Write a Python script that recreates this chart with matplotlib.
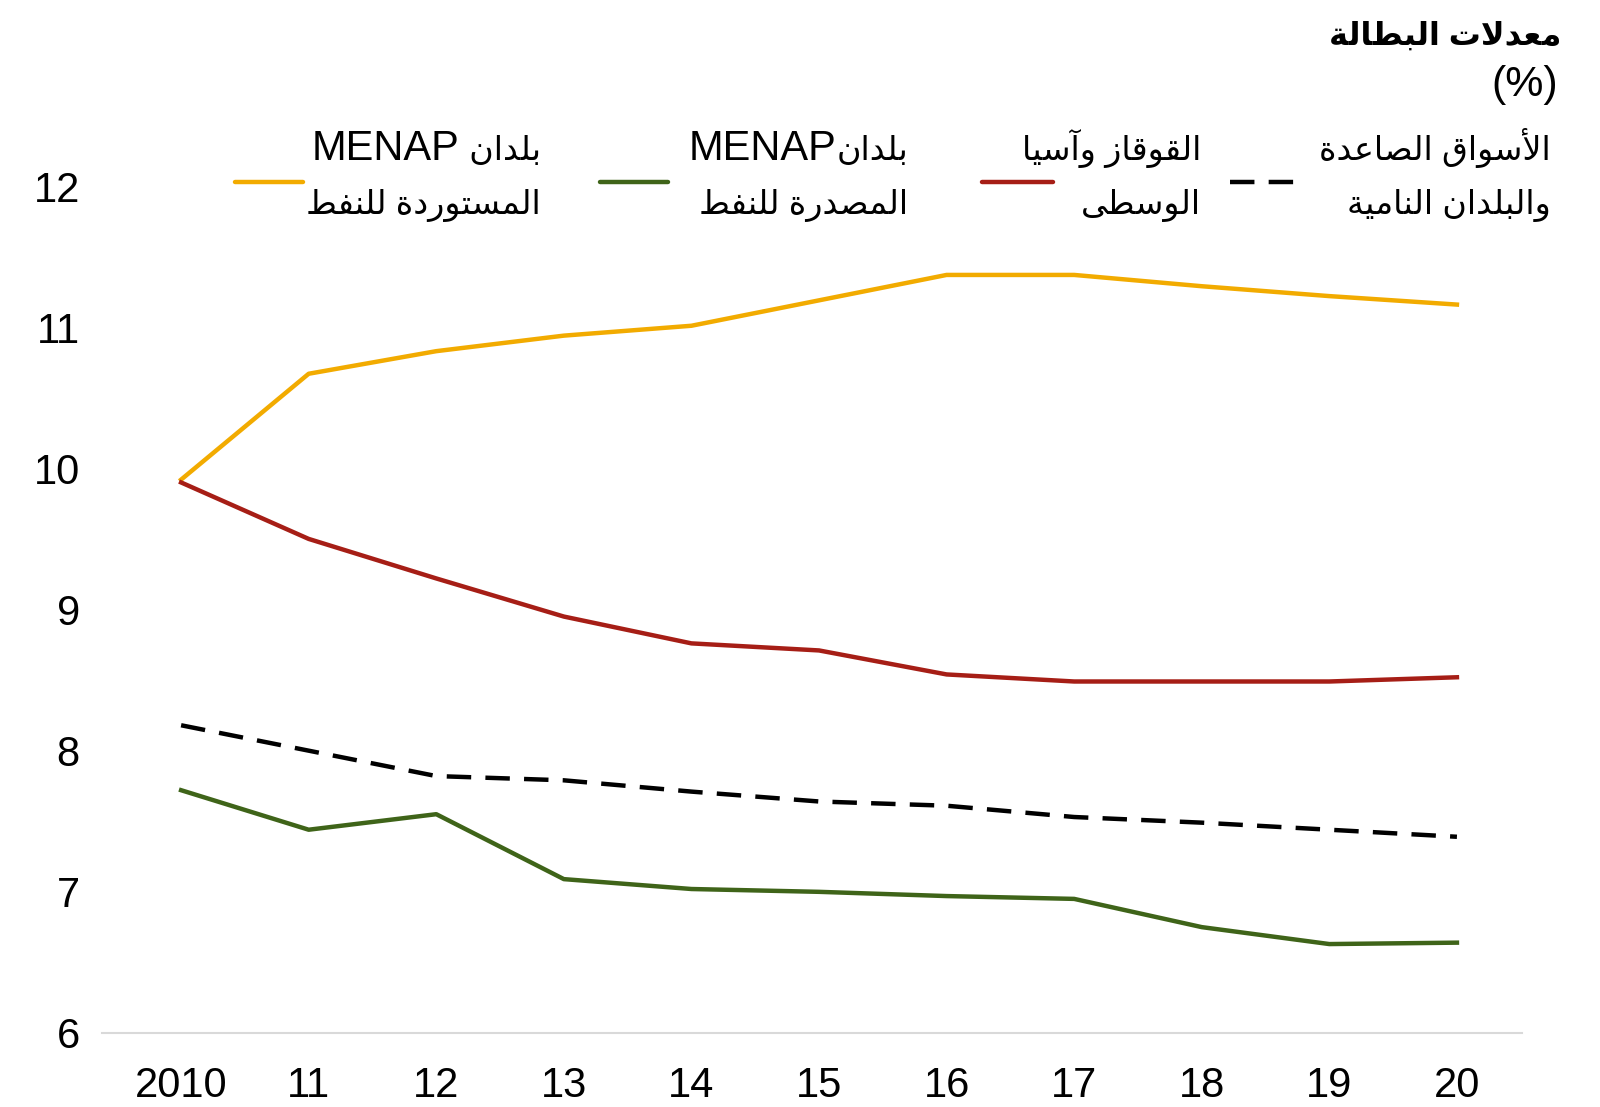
import matplotlib
matplotlib.use("Agg")
import matplotlib.pyplot as plt
from matplotlib.lines import Line2D
from matplotlib import font_manager

names = {f.name for f in font_manager.fontManager.ttflist}
arabic_fonts = [n for n in ['DejaVu Sans Condensed', 'DejaVu Sans'] if n in names]
plt.rcParams['font.family'] = ['Liberation Sans'] + arabic_fonts

# data
years = ['2010', '11', '12', '13', '14', '15', '16', '17', '18', '19', '20']
menap_importers = [9.92, 10.67, 10.83, 10.94, 11.01, 11.19, 11.37, 11.37, 11.29, 11.22, 11.16]
cca = [9.90, 9.50, 9.22, 8.95, 8.76, 8.71, 8.54, 8.49, 8.49, 8.49, 8.52]
emde = [8.18, 8.00, 7.82, 7.79, 7.71, 7.64, 7.61, 7.53, 7.49, 7.44, 7.39]
menap_exporters = [7.72, 7.44, 7.55, 7.09, 7.02, 7.00, 6.97, 6.95, 6.75, 6.63, 6.64]
yticks = [6, 7, 8, 9, 10, 11, 12]

title = 'معدلات البطالة'
unit = '(%)'
lbl_emde = 'الأسواق الصاعدة\nوالبلدان النامية'
lbl_cca = 'القوقاز وآسيا\nالوسطى'
lbl_exp = 'بلدانMENAP\nالمصدرة للنفط'
lbl_imp = 'بلدان MENAP\nالمستوردة للنفط'

YELLOW = '#F2AB00'
RED = '#A61E16'
GREEN = '#3F6419'

# --- minimal arabic shaping (matplotlib has no text shaper) ---
FORMS = {
    'ا': (0xFE8D, 0xFE8E), 'أ': (0xFE83, 0xFE84), 'آ': (0xFE81, 0xFE82),
    'ب': (0xFE8F, 0xFE90, 0xFE91, 0xFE92), 'ت': (0xFE95, 0xFE96, 0xFE97, 0xFE98),
    'ة': (0xFE93, 0xFE94), 'د': (0xFEA9, 0xFEAA), 'ر': (0xFEAD, 0xFEAE),
    'ز': (0xFEAF, 0xFEB0), 'س': (0xFEB1, 0xFEB2, 0xFEB3, 0xFEB4),
    'ص': (0xFEB9, 0xFEBA, 0xFEBB, 0xFEBC), 'ط': (0xFEC1, 0xFEC2, 0xFEC3, 0xFEC4),
    'ع': (0xFEC9, 0xFECA, 0xFECB, 0xFECC), 'ف': (0xFED1, 0xFED2, 0xFED3, 0xFED4),
    'ق': (0xFED5, 0xFED6, 0xFED7, 0xFED8), 'ل': (0xFEDD, 0xFEDE, 0xFEDF, 0xFEE0),
    'م': (0xFEE1, 0xFEE2, 0xFEE3, 0xFEE4), 'ن': (0xFEE5, 0xFEE6, 0xFEE7, 0xFEE8),
    'و': (0xFEED, 0xFEEE), 'ى': (0xFEEF, 0xFEF0),
    'ي': (0xFEF1, 0xFEF2, 0xFEF3, 0xFEF4),
}
LAM_ALEF = {'ا': (0xFEFB, 0xFEFC), 'أ': (0xFEF7, 0xFEF8), 'آ': (0xFEF5, 0xFEF6)}


def shape_line(s):
    if not any(c in FORMS for c in s):
        return s
    toks = []
    i = 0
    while i < len(s):
        c = s[i]
        if c == 'ل' and i + 1 < len(s) and s[i + 1] in LAM_ALEF:
            toks.append(LAM_ALEF[s[i + 1]])
            i += 2
            continue
        toks.append(FORMS.get(c, c))
        i += 1
    out = []
    for k, t in enumerate(toks):
        if isinstance(t, str):
            out.append(t)
            continue
        prev = toks[k - 1] if k > 0 else None
        nxt = toks[k + 1] if k + 1 < len(toks) else None
        pj = isinstance(prev, tuple) and len(prev) == 4
        nj = isinstance(nxt, tuple) and len(t) == 4
        if pj and nj:
            out.append(chr(t[3]))
        elif pj:
            out.append(chr(t[1]))
        elif nj:
            out.append(chr(t[2]))
        else:
            out.append(chr(t[0]))
    return ''.join(reversed(out))


W, H = 1600, 1107


def fx(px):
    return px / W


def fy(py):
    return 1 - py / H


fig = plt.figure(figsize=(16, 11.07), dpi=100)
renderer = fig.canvas.get_renderer()


def rtl_text(xr, base, line, ar_size, lat_size, **kw):
    # lay out runs right to left, latin runs keep their own order
    runs = []
    for ch in line:
        latin = ch.isascii() and ch.isalnum()
        if runs and runs[-1][0] == latin:
            runs[-1][1] += ch
        else:
            runs.append([latin, ch])
    x = fx(xr)
    for latin, seg in runs:
        t = fig.text(x, fy(base), seg if latin else shape_line(seg), ha='right', va='baseline',
                     fontsize=lat_size if latin else ar_size, **kw)
        x -= t.get_window_extent(renderer).width / W


ax = fig.add_axes([fx(102), fy(1033), (1522 - 102) / W, (1033 - 186) / H])

x = list(range(len(years)))
lw = 3.2
ax.plot(x, menap_importers, color=YELLOW, lw=lw)
ax.plot(x, cca, color=RED, lw=lw)
ax.plot(x, emde, color='black', lw=lw, dashes=(5.5, 3.2))
ax.plot(x, menap_exporters, color=GREEN, lw=lw)

ax.set_ylim(6, 12)
ax.set_xlim(-0.62, 10.51)
ax.set_yticks(yticks)
ax.set_xticks(x)
ax.set_xticklabels(years)
for s in ['top', 'right', 'left']:
    ax.spines[s].set_visible(False)
ax.spines['bottom'].set_color('#D9D9D9')
ax.spines['bottom'].set_linewidth(1.5)
ax.tick_params(axis='y', length=0, pad=16, labelsize=30)
ax.tick_params(axis='x', length=0, pad=24, labelsize=30)

# title
rtl_text(1561, 45, title, 23, 23, fontweight='bold')
fig.text(fx(1558), fy(85), unit, ha='right', va='center', fontsize=31)

# legend, right to left
entries = [
    (lbl_emde, 1551, (1230, 1296), dict(color='black', dashes=(5.5, 3.2))),
    (lbl_cca, 1201, (982, 1053), dict(color=RED)),
    (lbl_exp, 908, (600, 668), dict(color=GREEN)),
    (lbl_imp, 541, (235, 303), dict(color=YELLOW)),
]
for lbl, xr, (h0, h1), style in entries:
    for line, base in zip(lbl.split('\n'), [160, 214]):
        rtl_text(xr, base, line, 24, 30)
    fig.add_artist(Line2D([fx(h0), fx(h1)], [fy(182), fy(182)], lw=lw,
                          solid_capstyle='round', dash_capstyle='butt', **style))

fig.savefig('out.png', dpi=100)
